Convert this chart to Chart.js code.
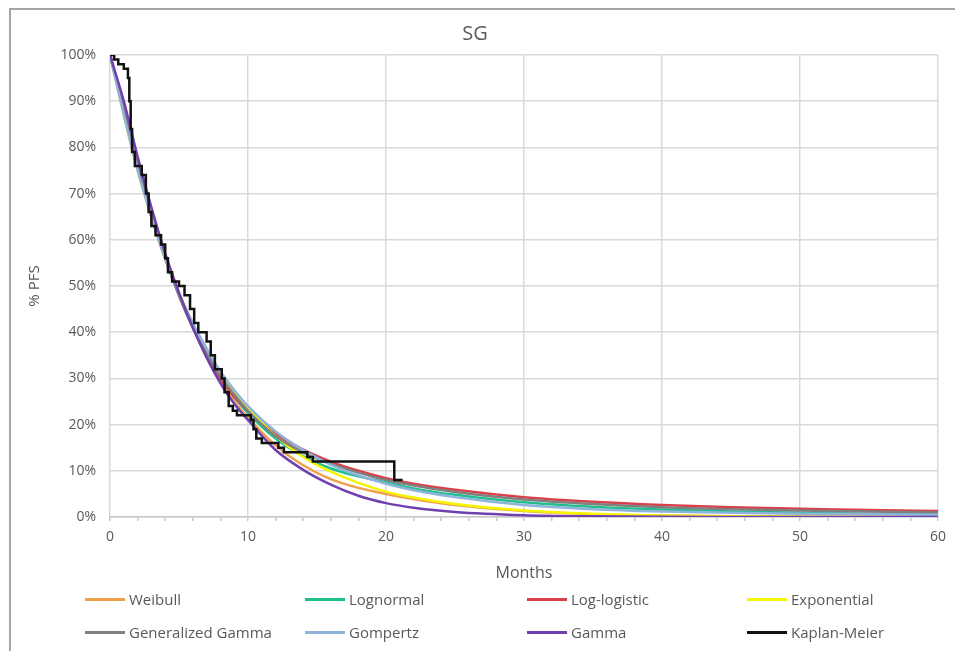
<!DOCTYPE html>
<html lang="en">
<head>
    <meta charset="UTF-8">
    <title>SG</title>
    <script src="https://cdn.jsdelivr.net/npm/chart.js"></script>
    <style>
        html, body { margin: 0; padding: 0; background: #fff; overflow: hidden; }
        body { width: 955px; height: 651px; position: relative; font-family: "Open Sans", sans-serif; }
        .frame { position: absolute; left: 9px; top: 8px; width: 960px; height: 700px; border: 2px solid #a6a6a6; }
        #wrap { position: absolute; left: 0; top: 0; width: 955px; height: 651px; }
        .legend { position: absolute; left: 0; top: 0; width: 955px; }
        .item { position: absolute; display: flex; align-items: center; color: #595959; font-size: 15px; white-space: nowrap; }
        .item span.sw { display: inline-block; width: 40px; height: 3px; margin-right: 4px; }
    </style>
</head>
<body>
    <div class="frame"></div>
    <div id="wrap"><canvas id="chart" width="955" height="651"></canvas></div>
    <div class="legend" id="legend"></div>

    <script>
        // months at which the fitted curves were read
        const months = [0, 1, 2, 3, 4, 5, 6, 7, 8, 9, 10, 12, 14, 16, 18, 20, 22, 25, 30, 35, 40, 45, 50, 55, 60];

        // fitted survival curves (% PFS)
        const weibull     = [100, 89, 77, 66, 57, 48.5, 41, 35, 29.5, 25, 21.5, 15.5, 11.2, 8.2, 6.3, 5.0, 3.9, 2.6, 1.3, 0.6, 0.3, 0.15, 0.08, 0.04, 0.02];
        const lognormal   = [100, 88, 76, 65, 56, 48, 41, 35, 30, 26, 22.5, 17, 13.2, 10.5, 8.8, 7.5, 6.2, 4.8, 3.2, 2.2, 1.6, 1.2, 0.9, 0.7, 0.6];
        const logLogistic = [100, 88, 76, 65, 56, 48, 41, 35, 30, 26, 23, 18, 14.6, 12, 10, 8.4, 7.2, 5.9, 4.3, 3.3, 2.6, 2.1, 1.8, 1.5, 1.3];
        const exponential = [100, 87, 75, 65, 56, 48.5, 42, 36, 31, 27, 23.5, 17.5, 13, 9.8, 7.4, 5.5, 4.2, 2.8, 1.4, 0.7, 0.3, 0.15, 0.08, 0.04, 0.02];
        const genGamma    = [100, 88, 76, 65, 56, 48, 41, 35.5, 30.5, 26.5, 23, 17.5, 14, 11.5, 9.6, 8.0, 6.8, 5.4, 3.8, 2.8, 2.1, 1.7, 1.4, 1.2, 1.0];
        const gompertz    = [100, 87, 75, 65, 56, 48.5, 42, 36.5, 31.5, 27.5, 24, 18.5, 14.5, 11.3, 9, 7.2, 5.8, 4.3, 2.6, 1.7, 1.2, 0.9, 0.7, 0.6, 0.5];
        const gamma       = [100, 90, 78, 67, 57, 48.5, 41, 34.5, 29, 24.5, 21, 14.5, 10.2, 7.0, 4.6, 3.0, 2.0, 1.1, 0.4, 0.15, 0.05, 0.02, 0.01, 0, 0];

        // Kaplan-Meier steps (time in months, survival after the event)
        const kmTime = [0, 0.3, 0.6, 1.0, 1.3, 1.4, 1.5, 1.6, 1.8, 2.3, 2.6, 2.8, 3.0, 3.3, 3.7, 4.0, 4.2, 4.5, 5.0, 5.4, 5.8, 6.1, 6.4, 7.0, 7.3, 7.6, 8.1, 8.3, 8.6, 8.9, 9.2, 10.2, 10.4, 10.6, 11.0, 12.2, 12.6, 14.3, 14.7, 20.6, 21.2];
        const kmSurv = [100, 99, 98, 97, 95, 90, 84, 79, 76, 74, 70, 66, 63, 61, 59, 56, 53, 51, 50, 48, 45, 42, 40, 38, 35, 32, 30, 27, 24, 23, 22, 21, 19, 17, 16, 15, 14, 13, 12, 8, 8];

        const yTicks = [0, 10, 20, 30, 40, 50, 60, 70, 80, 90, 100];
        const xLabels = [0, 10, 20, 30, 40, 50, 60];

        const curves = [
            { label: 'Weibull', data: weibull, color: '#F0A04A' },
            { label: 'Lognormal', data: lognormal, color: '#1FBF8F' },
            { label: 'Log-logistic', data: logLogistic, color: '#D9404A' },
            { label: 'Exponential', data: exponential, color: '#F5F500' },
            { label: 'Generalized Gamma', data: genGamma, color: '#808080' },
            { label: 'Gompertz', data: gompertz, color: '#8FB4DC' },
            { label: 'Gamma', data: gamma, color: '#7040B0' }
        ];

        const datasets = curves.map((c, i) => ({
            label: c.label,
            data: months.map((m, j) => ({ x: m, y: c.data[j] })),
            borderColor: c.color,
            backgroundColor: c.color,
            borderWidth: 2.5,
            pointRadius: 0,
            tension: 0.4,
            cubicInterpolationMode: 'monotone',
            order: 10 - i
        }));

        datasets.push({
            label: 'Kaplan-Meier',
            data: kmTime.map((t, j) => ({ x: t, y: kmSurv[j] })),
            borderColor: '#111111',
            backgroundColor: '#111111',
            borderWidth: 2.5,
            pointRadius: 0,
            stepped: true,
            order: 0
        });

        const grey = '#595959';

        new Chart(document.getElementById('chart'), {
            type: 'line',
            data: { datasets: datasets },
            options: {
                responsive: false,
                animation: false,
                layout: { padding: { left: 12, right: 17, top: 0, bottom: 68 } },
                plugins: {
                    legend: { display: false },
                    tooltip: { enabled: false },
                    title: {
                        display: true,
                        text: 'SG',
                        color: grey,
                        font: { family: 'Open Sans', size: 20, weight: 'normal' },
                        padding: { top: 22, bottom: 9 }
                    }
                },
                scales: {
                    x: {
                        type: 'linear',
                        min: 0,
                        max: 60,
                        ticks: {
                            stepSize: 2,
                            autoSkip: false,
                            maxRotation: 0,
                            color: grey,
                            font: { family: 'Open Sans', size: 14 },
                            padding: 8,
                            callback: v => xLabels.includes(v) ? String(v) : ''
                        },
                        grid: {
                            color: ctx => (ctx.tick && xLabels.includes(ctx.tick.value)) ? '#d9d9d9' : 'rgba(0,0,0,0)',
                            tickColor: '#c8c8c8',
                            tickLength: 4,
                            lineWidth: 1.5
                        },
                        border: { color: '#c8c8c8', width: 1.5 },
                        title: {
                            display: true,
                            text: 'Months',
                            color: grey,
                            font: { family: 'Open Sans', size: 16 },
                            padding: { top: 2, bottom: 0 }
                        },
                        afterFit: s => { s.height = 66; }
                    },
                    y: {
                        min: 0,
                        max: 100,
                        afterBuildTicks: s => { s.ticks = yTicks.map(v => ({ value: v })); },
                        ticks: {
                            color: grey,
                            font: { family: 'Open Sans', size: 14 },
                            padding: 14,
                            callback: v => v + '%'
                        },
                        grid: { color: '#d9d9d9', lineWidth: 1.5, drawTicks: false },
                        border: { display: false },
                        title: {
                            display: true,
                            text: '% PFS',
                            color: grey,
                            font: { family: 'Open Sans', size: 15 },
                            padding: { top: 14, bottom: 0 }
                        },
                        afterFit: s => { s.width = 98; }
                    }
                }
            }
        });

        // legend laid out in four columns, two rows
        const legendItems = curves.map(c => ({ label: c.label, color: c.color }));
        legendItems.push({ label: 'Kaplan-Meier', color: '#111111' });
        const colX = [85, 305, 527, 747];
        const rowY = [599, 632];
        const legendEl = document.getElementById('legend');
        legendItems.forEach((it, i) => {
            const d = document.createElement('div');
            d.className = 'item';
            d.style.left = colX[i % 4] + 'px';
            d.style.top = (rowY[Math.floor(i / 4)] - 11) + 'px';
            d.style.height = '22px';
            d.innerHTML = '<span class="sw" style="background:' + it.color + '"></span>' + it.label;
            legendEl.appendChild(d);
        });
    </script>
</body>
</html>
